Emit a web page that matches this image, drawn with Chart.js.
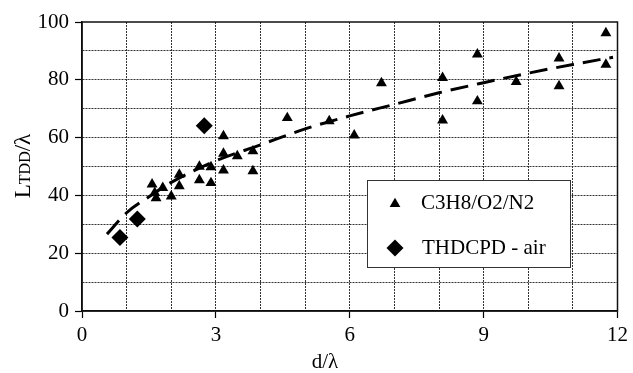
<!DOCTYPE html>
<html>
<head>
<meta charset="utf-8">
<script src="https://cdn.jsdelivr.net/npm/chart.js@4/dist/chart.umd.min.js"></script>
<style>
  html, body { margin: 0; padding: 0; background: #fff; }
  #wrap { width: 633px; height: 373px; position: relative; }
</style>
</head>
<body>
<div id="wrap"><canvas id="c"></canvas></div>
<script>
// ---- data ----
const c3h8X = [1.57, 1.81, 1.63, 1.66, 2.0, 2.18, 2.18, 2.63, 2.63, 2.89, 2.89, 3.17, 3.17, 3.17, 3.48, 3.83, 3.83, 4.6, 5.54, 6.1, 6.71, 8.08, 8.08, 8.86, 8.86, 9.73, 10.69, 10.69, 11.74, 11.74];
const c3h8Y = [43.8, 42.6, 40.9, 39.1, 39.7, 47.2, 43.2, 50.0, 45.3, 49.8, 44.3, 60.5, 54.5, 48.7, 53.6, 55.3, 48.4, 66.8, 65.7, 60.8, 78.9, 80.7, 66.0, 88.8, 72.6, 79.3, 87.4, 77.8, 96.2, 85.3];
const thdX = [0.85, 1.24, 2.74];
const thdY = [25.4, 31.8, 64.1];
const trendX = [0.56, 1, 1.5, 2, 2.5, 3, 4, 5, 6, 7, 8, 9, 10, 11, 11.9];
const trendY = [26.6, 34, 39.5, 44.5, 48.5, 52, 57.5, 63, 67.5, 71.5, 75.5, 79, 82.3, 85.3, 87.8];
const xTickLabels = [0, 3, 6, 9, 12];
const yTickLabels = [0, 20, 40, 60, 80, 100];
const seriesNames = ['C3H8/O2/N2', 'THDCPD - air'];

const toPts = (xs, ys) => xs.map((x, i) => ({ x: x, y: ys[i] }));
const FONT = '"Liberation Serif", "Times New Roman", serif';

const framePlugin = {
  id: 'frame',
  afterDraw(chart) {
    const ctx = chart.ctx, a = chart.chartArea;
    ctx.save();
    ctx.strokeStyle = '#111';
    ctx.lineWidth = 1.5;
    ctx.setLineDash([]);
    ctx.strokeRect(a.left, a.top, a.right - a.left, a.bottom - a.top);

    // legend box
    const lx = 367, ly = 180, lw = 203, lh = 87;
    ctx.fillStyle = '#fff';
    ctx.fillRect(lx, ly, lw, lh);
    ctx.lineWidth = 1;
    ctx.strokeStyle = '#333';
    ctx.strokeRect(lx + 0.5, ly + 0.5, lw, lh);
    // triangle
    ctx.fillStyle = '#000';
    const tx = 395, ty = 204, r = 6.2;
    ctx.beginPath();
    ctx.moveTo(tx, ty - r);
    ctx.lineTo(tx + r * Math.sin(Math.PI / 3), ty + r / 2);
    ctx.lineTo(tx - r * Math.sin(Math.PI / 3), ty + r / 2);
    ctx.closePath();
    ctx.fill();
    // diamond
    const dx = 395, dy = 248, dr = 8.5;
    ctx.beginPath();
    ctx.moveTo(dx - dr, dy); ctx.lineTo(dx, dy - dr); ctx.lineTo(dx + dr, dy); ctx.lineTo(dx, dy + dr);
    ctx.closePath();
    ctx.fill();
    ctx.font = '21px ' + FONT;
    ctx.textBaseline = 'middle';
    ctx.textAlign = 'left';
    ctx.fillText(seriesNames[0], 421, 203);
    ctx.fillText(seriesNames[1], 422, 248);

    // x axis title
    ctx.textAlign = 'center';
    ctx.fillText('d/\u03bb', 325, 362);

    // y axis title (L + small caps TDD + /λ), rotated
    ctx.translate(22, 166);
    ctx.rotate(-Math.PI / 2);
    const big = '23px ' + FONT, small = '16px ' + FONT;
    ctx.textBaseline = 'alphabetic';
    ctx.font = big; const w1 = ctx.measureText('L').width;
    ctx.font = small; const w2 = ctx.measureText('TDD').width;
    ctx.font = big; const w3 = ctx.measureText('/\u03bb').width;
    let x0 = -(w1 + w2 + w3) / 2;
    const base = 8;
    ctx.textAlign = 'left';
    ctx.font = big; ctx.fillText('L', x0, base); x0 += w1;
    ctx.font = small; ctx.fillText('TDD', x0, base); x0 += w2;
    ctx.font = big; ctx.fillText('/\u03bb', x0, base);
    ctx.restore();
  }
};

new Chart(document.getElementById('c'), {
  type: 'scatter',
  data: {
    datasets: [
      {
        label: seriesNames[0],
        data: toPts(c3h8X, c3h8Y),
        pointStyle: 'triangle',
        pointRadius: 6.3,
        pointHoverRadius: 6.3,
        backgroundColor: '#000',
        borderColor: '#000',
        borderWidth: 0
      },
      {
        label: seriesNames[1],
        data: toPts(thdX, thdY),
        pointStyle: 'rectRot',
        pointRadius: 8.5,
        pointHoverRadius: 8.5,
        backgroundColor: '#000',
        borderColor: '#000',
        borderWidth: 0
      },
      {
        label: 'fit',
        type: 'line',
        data: toPts(trendX, trendY),
        showLine: true,
        pointRadius: 0,
        borderColor: '#000',
        borderWidth: 3,
        borderDash: [18, 9],
        cubicInterpolationMode: 'monotone',
        fill: false
      }
    ]
  },
  options: {
    responsive: true,
    maintainAspectRatio: false,
    animation: false,
    layout: { padding: { left: 0, right: 12, top: 22, bottom: 0 } },
    plugins: { legend: { display: false }, tooltip: { enabled: false } },
    scales: {
      x: {
        type: 'linear',
        min: 0, max: 12,
        afterFit: s => { s.height = 62; },
        ticks: {
          stepSize: 1,
          autoSkip: false,
          maxRotation: 0,
          padding: 5,
          color: '#000',
          font: { family: FONT, size: 21 },
          callback: v => (xTickLabels.includes(v) ? String(v) : '')
        },
        grid: {
          color: c => (c.tick && (c.tick.value === 0 || c.tick.value === 12) ? 'transparent' : '#333'),
          lineWidth: 1,
          tickLength: 7,
          tickColor: c => (c.tick && xTickLabels.includes(c.tick.value) ? '#000' : 'transparent'),
          tickWidth: 1.2
        },
        border: { display: true, color: '#000', width: 1.5, dash: [2, 1] }
      },
      y: {
        type: 'linear',
        min: 0, max: 100,
        afterFit: s => { s.width = 82; },
        ticks: {
          stepSize: 10,
          autoSkip: false,
          padding: 6,
          color: '#000',
          font: { family: FONT, size: 21 },
          callback: v => (yTickLabels.includes(v) ? String(v) : '')
        },
        grid: {
          color: c => (c.tick && (c.tick.value === 0 || c.tick.value === 100) ? 'transparent' : '#333'),
          lineWidth: 1,
          tickLength: 7,
          tickColor: c => (c.tick && yTickLabels.includes(c.tick.value) ? '#000' : 'transparent'),
          tickWidth: 1.2
        },
        border: { display: true, color: '#000', width: 1.5, dash: [2, 1] }
      }
    }
  },
  plugins: [framePlugin]
});
</script>
</body>
</html>
